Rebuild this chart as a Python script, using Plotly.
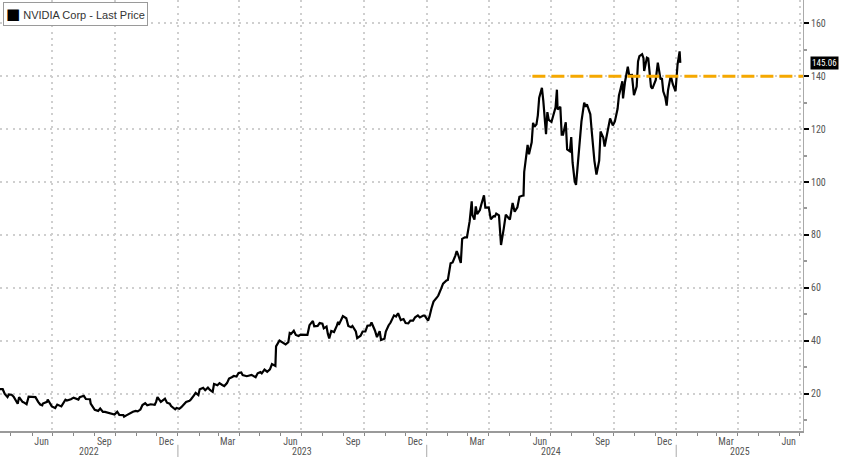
import pandas as pd
import plotly.graph_objects as go

# ---------------- data ----------------
dates = [
    "2022-04-14","2022-04-19","2022-04-22","2022-04-26","2022-04-28","2022-05-02","2022-05-05","2022-05-09",
    "2022-05-11","2022-05-13","2022-05-18","2022-05-20","2022-05-24","2022-05-26","2022-05-27","2022-06-01",
    "2022-06-06","2022-06-10","2022-06-13","2022-06-16","2022-06-17","2022-06-23","2022-06-24","2022-06-30",
    "2022-07-05","2022-07-08","2022-07-14","2022-07-20","2022-07-22","2022-07-28","2022-08-01","2022-08-08",
    "2022-08-10","2022-08-16","2022-08-19","2022-08-25","2022-08-26","2022-09-01","2022-09-06","2022-09-09",
    "2022-09-13","2022-09-16","2022-09-22","2022-09-26","2022-09-30","2022-10-04","2022-10-07","2022-10-13",
    "2022-10-14","2022-10-18","2022-10-21","2022-10-25","2022-10-27","2022-10-31","2022-11-03","2022-11-07",
    "2022-11-10","2022-11-14","2022-11-17","2022-11-22","2022-11-28","2022-11-30","2022-12-02","2022-12-07",
    "2022-12-13","2022-12-16","2022-12-20","2022-12-22","2022-12-28","2022-12-30",
    "2023-01-03","2023-01-06","2023-01-10","2023-01-13","2023-01-18","2023-01-20","2023-01-24","2023-01-27",
    "2023-01-31","2023-02-02","2023-02-07","2023-02-10","2023-02-14","2023-02-17","2023-02-21","2023-02-23",
    "2023-02-28","2023-03-03","2023-03-07","2023-03-10","2023-03-14","2023-03-17","2023-03-21","2023-03-24",
    "2023-03-28","2023-03-31","2023-04-04","2023-04-06","2023-04-12","2023-04-14","2023-04-19","2023-04-25",
    "2023-04-28","2023-05-02","2023-05-04","2023-05-08","2023-05-10","2023-05-12","2023-05-16","2023-05-19",
    "2023-05-24","2023-05-25","2023-05-30","2023-06-01","2023-06-05","2023-06-08","2023-06-12","2023-06-14",
    "2023-06-16","2023-06-20","2023-06-23","2023-06-27","2023-06-30","2023-07-06","2023-07-10","2023-07-13",
    "2023-07-18","2023-07-20","2023-07-25","2023-07-28","2023-08-01","2023-08-03","2023-08-07","2023-08-09",
    "2023-08-11","2023-08-14","2023-08-18","2023-08-22","2023-08-24","2023-08-25","2023-08-29","2023-08-31",
    "2023-09-05","2023-09-08","2023-09-12","2023-09-14","2023-09-19","2023-09-21","2023-09-26","2023-09-29",
    "2023-10-03","2023-10-06","2023-10-10","2023-10-12","2023-10-17","2023-10-20","2023-10-24","2023-10-26",
    "2023-10-31","2023-11-02","2023-11-06","2023-11-09","2023-11-14","2023-11-17","2023-11-20","2023-11-24",
    "2023-11-28","2023-12-01","2023-12-05","2023-12-08","2023-12-12","2023-12-15","2023-12-19","2023-12-22",
    "2023-12-27","2023-12-29",
    "2024-01-03","2024-01-05","2024-01-08","2024-01-11","2024-01-16","2024-01-18","2024-01-22","2024-01-25",
    "2024-01-30","2024-02-01","2024-02-05","2024-02-08","2024-02-12","2024-02-14","2024-02-16","2024-02-20",
    "2024-02-22","2024-02-26","2024-02-29","2024-03-04","2024-03-07","2024-03-08","2024-03-11","2024-03-13",
    "2024-03-15","2024-03-19","2024-03-21","2024-03-25","2024-03-27","2024-04-01","2024-04-04","2024-04-08",
    "2024-04-10","2024-04-12","2024-04-16","2024-04-19","2024-04-23","2024-04-26","2024-04-30","2024-05-02",
    "2024-05-06","2024-05-09","2024-05-13","2024-05-16","2024-05-20","2024-05-22","2024-05-23","2024-05-28",
    "2024-05-30","2024-06-03","2024-06-05","2024-06-07","2024-06-10","2024-06-12","2024-06-14","2024-06-18",
    "2024-06-20","2024-06-24","2024-06-26","2024-06-28","2024-07-02","2024-07-05","2024-07-08","2024-07-10",
    "2024-07-11","2024-07-15","2024-07-17","2024-07-19","2024-07-23","2024-07-25","2024-07-29","2024-07-31",
    "2024-08-02","2024-08-05","2024-08-07","2024-08-09","2024-08-13","2024-08-15","2024-08-19","2024-08-21",
    "2024-08-23","2024-08-28","2024-08-30","2024-09-03","2024-09-06","2024-09-10","2024-09-12","2024-09-16",
    "2024-09-18","2024-09-20","2024-09-24","2024-09-26","2024-09-30","2024-10-03","2024-10-07","2024-10-09",
    "2024-10-11","2024-10-14","2024-10-15","2024-10-18","2024-10-22","2024-10-24","2024-10-28","2024-10-31",
    "2024-11-04","2024-11-06","2024-11-08","2024-11-12","2024-11-14","2024-11-15","2024-11-19","2024-11-21",
    "2024-11-25","2024-11-27","2024-12-02","2024-12-05","2024-12-09","2024-12-11","2024-12-13","2024-12-16",
    "2024-12-18","2024-12-20","2024-12-24","2024-12-27","2024-12-31",
    "2025-01-03","2025-01-06","2025-01-07",
]
prices = [
    21.7, 21.7, 19.9, 18.7, 19.7, 19.6, 18.9, 16.9,
    16.2, 18.7, 16.9, 16.7, 16.0, 17.9, 18.9, 18.8,
    18.7, 16.9, 15.9, 15.6, 16.3, 16.9, 17.8, 15.2,
    14.6, 15.9, 15.2, 17.7, 17.4, 17.9, 18.5, 17.8,
    18.7, 19.2, 18.0, 17.9, 16.3, 13.9, 13.5, 14.4,
    13.1, 13.1, 12.6, 12.5, 12.1, 13.2, 12.0, 11.9,
    11.3, 11.9, 12.4, 13.2, 13.2, 13.5, 13.3, 14.0,
    15.7, 16.4, 15.6, 16.0, 15.8, 16.9, 18.7, 16.9,
    18.1, 16.6, 16.2, 15.3, 14.1, 14.6,
    14.3, 14.9, 15.9, 16.9, 17.3, 17.8, 19.2, 20.3,
    19.5, 21.7, 22.2, 21.3, 22.3, 21.4, 20.7, 23.7,
    23.2, 24.0, 23.3, 22.9, 24.0, 25.7, 26.2, 26.7,
    26.5, 27.8, 28.0, 27.0, 26.6, 26.7, 27.1, 26.2,
    27.7, 28.2, 27.7, 29.1, 28.6, 28.3, 29.2, 31.2,
    30.5, 37.9, 40.1, 39.7, 39.1, 38.6, 39.5, 42.9,
    42.6, 43.8, 42.2, 41.8, 42.3, 42.2, 42.2, 45.9,
    47.5, 45.5, 45.6, 46.7, 46.5, 44.7, 45.4, 42.6,
    40.9, 43.7, 43.3, 45.6, 47.2, 46.0, 48.7, 49.3,
    48.5, 45.6, 45.1, 45.6, 43.5, 41.0, 41.9, 43.5,
    43.5, 45.7, 45.8, 46.9, 43.9, 41.4, 43.6, 40.3,
    40.8, 43.5, 45.8, 46.9, 49.6, 49.2, 50.4, 47.8,
    48.2, 46.7, 46.6, 47.6, 47.6, 48.9, 49.6, 48.8,
    49.5, 49.5,
    47.6, 49.1, 52.3, 54.8, 56.4, 57.1, 59.6, 61.6,
    62.8, 63.0, 69.3, 69.6, 72.2, 73.9, 72.6, 69.4,
    78.5, 79.1, 79.1, 85.2, 92.7, 87.5, 85.8, 90.8,
    87.9, 89.4, 91.4, 95.0, 90.3, 90.4, 85.9, 87.1,
    87.0, 88.1, 87.4, 76.2, 82.4, 87.7, 86.4, 85.8,
    92.1, 88.8, 90.4, 94.4, 94.8, 94.9, 103.8, 114.0,
    110.5, 115.0, 122.4, 120.9, 121.8, 125.2, 131.9, 135.6,
    130.8, 118.1, 126.4, 123.5, 122.7, 125.8, 128.2, 134.9,
    127.4, 128.4, 117.9, 117.9, 122.6, 112.3, 111.6, 117.0,
    107.3, 100.5, 98.9, 104.8, 116.1, 122.9, 130.0, 128.5,
    129.4, 125.6, 119.4, 108.0, 102.8, 108.1, 119.1, 116.8,
    113.4, 116.0, 120.9, 124.0, 121.4, 122.9, 127.7, 132.7,
    134.8, 138.1, 131.6, 138.0, 143.6, 140.4, 140.5, 132.8,
    136.1, 145.6, 147.6, 148.3, 146.8, 142.0, 147.0, 146.7,
    136.0, 135.3, 138.6, 145.1, 138.8, 139.3, 134.3, 132.0,
    128.9, 134.7, 140.2, 137.0, 134.3,
    144.5, 149.4, 145.06,
]
series_name = "NVIDIA Corp - Last Price"
last_price = 145.06

target_level = 140
target_start = "2024-06-04"

x_range = ["2022-04-15", "2025-07-06"]
y_range = [5.9, 168.8]
y_ticks = [20, 40, 60, 80, 100, 120, 140, 160]
y_minor = [10, 30, 50, 70, 90, 110, 130, 150]

month_label_dates = ["2022-06-15", "2022-09-15", "2022-12-15", "2023-03-15", "2023-06-15", "2023-09-15",
                     "2023-12-15", "2024-03-15", "2024-06-15", "2024-09-15", "2024-12-15", "2025-03-15",
                     "2025-06-15"]
month_labels = ["Jun", "Sep", "Dec", "Mar", "Jun", "Sep", "Dec", "Mar", "Jun", "Sep", "Dec", "Mar", "Jun"]
quarter_starts = ["2022-07-01", "2022-10-01", "2023-01-01", "2023-04-01", "2023-07-01", "2023-10-01",
                  "2024-01-01", "2024-04-01", "2024-07-01", "2024-10-01", "2025-01-01", "2025-04-01",
                  "2025-07-01"]
month_starts = [d.strftime("%Y-%m-%d") for d in pd.date_range("2022-05-01", "2025-07-01", freq="MS")]
years = [2022, 2023, 2024, 2025]

FONT = "Liberation Sans Narrow, Roboto Condensed, Liberation Sans, Arial, sans-serif"
GRID = "#cfcfcf"
GRID_DASH = "2px,4.3px"
TXT = "#555555"
ORANGE = "#F5A800"

fig = go.Figure()

fig.add_trace(go.Scatter(x=dates, y=prices, mode="lines", name=series_name, showlegend=False,
                         line=dict(color="black", width=2.2), hoverinfo="x+y"))

fig.add_trace(go.Scatter(x=[target_start, x_range[1]], y=[target_level, target_level], mode="lines",
                         showlegend=False, line=dict(color=ORANGE, width=3, dash="13px,6px"),
                         hoverinfo="skip"))

# carrier for the overlaying grid axis
fig.add_trace(go.Scatter(x=[x_range[0]], y=[None], xaxis="x2", showlegend=False, hoverinfo="skip"))

# year labels & separators
start = pd.Timestamp(x_range[0])
end = pd.Timestamp(x_range[1])
annotations = []
shapes = []
for yr in years:
    a = max(start, pd.Timestamp(f"{yr}-01-01"))
    b = min(end, pd.Timestamp(f"{yr + 1}-01-01"))
    mid = a + (b - a) / 2
    annotations.append(dict(x=mid.strftime("%Y-%m-%d %H:%M"), y=-0.047, xref="x", yref="paper",
                            text=str(yr), showarrow=False, yanchor="middle",
                            font=dict(family=FONT, size=10, color=TXT)))
    if yr > years[0]:
        shapes.append(dict(type="line", xref="x", yref="paper", x0=f"{yr}-01-01", x1=f"{yr}-01-01",
                           y0=-0.032, y1=-0.062, line=dict(color="#aaaaaa", width=1)))

# last-price tag
annotations.append(dict(x=1, xref="paper", y=last_price, yref="y", xanchor="left", xshift=7,
                        text=f"{last_price:.2f}", showarrow=False, bgcolor="black", borderpad=1,
                        font=dict(family=FONT, size=9, color="white")))

# legend box (square swatch + series name)
annotations.append(dict(x=0.0035, y=0.995, xref="paper", yref="paper", xanchor="left", yanchor="top",
                        text="<span style='font-family:DejaVu Sans;font-size:15px;color:#000000'>■</span> "
                             + series_name,
                        showarrow=False, bgcolor="white", bordercolor="#9a9a9a", borderwidth=1,
                        borderpad=2, font=dict(family="Liberation Sans, Arial", size=11, color="#333333")))

fig.update_layout(
    width=848, height=457,
    margin=dict(l=0, r=45, t=0, b=26),
    paper_bgcolor="white", plot_bgcolor="white",
    font=dict(family=FONT, size=10, color=TXT),
    showlegend=False,
    xaxis=dict(type="date", range=x_range, tickmode="array", tickvals=month_label_dates,
               ticktext=month_labels, ticks="", showgrid=False, zeroline=False,
               showline=True, linecolor="#9a9a9a", linewidth=1.5,
               tickfont=dict(family=FONT, size=10, color=TXT),
               minor=dict(tickmode="array", tickvals=month_starts, ticks="outside", ticklen=3,
                          tickcolor="#888888", showgrid=False)),
    xaxis2=dict(type="date", range=x_range, overlaying="x", anchor="y", side="bottom",
                tickmode="array", tickvals=quarter_starts, showticklabels=False, ticks="",
                showgrid=True, gridcolor=GRID, griddash=GRID_DASH, gridwidth=1.5, showline=False,
                zeroline=False),
    yaxis=dict(side="right", range=y_range, tickmode="array", tickvals=y_ticks, ticks="outside",
               ticklen=5, tickwidth=2, tickcolor="black", showgrid=True, gridcolor=GRID,
               griddash=GRID_DASH, gridwidth=1.5, zeroline=False, showline=True, linecolor="#aaaaaa",
               linewidth=1, tickfont=dict(family=FONT, size=10, color=TXT),
               minor=dict(tickmode="array", tickvals=y_minor, ticks="outside", ticklen=3,
                          tickcolor="#999999", showgrid=False)),
    annotations=annotations,
    shapes=shapes,
)

fig.write_html("out.html", config={"displayModeBar": False},
               post_script="document.body.style.margin='0px';")
